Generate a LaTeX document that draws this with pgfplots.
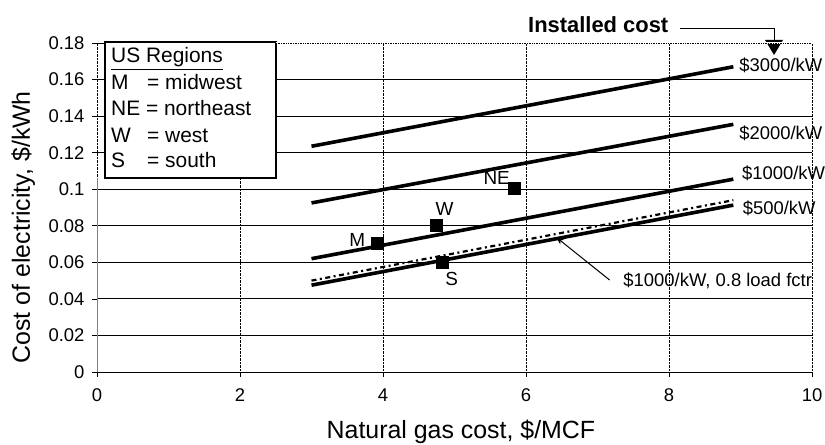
\documentclass[border=0pt]{standalone}
\usepackage{fontspec}
\setmainfont{Liberation Sans}
\usepackage{pgfplots}
\pgfplotsset{compat=1.18}
\usetikzlibrary{arrows.meta}

\begin{document}
\begin{tikzpicture}
\begin{axis}[
    at={(0bp,0bp)}, anchor=south west,
    scale only axis, width=715bp, height=329bp,
    xmin=0, xmax=10, ymin=0, ymax=0.18,
    xtick={0,2,4,6,8,10},
    ytick={0,0.02,0.04,0.06,0.08,0.1,0.12,0.14,0.16,0.18},
    axis line style={draw=none},
    xmajorgrids, ymajorgrids,
    x grid style={black, densely dotted, line width=0.7bp},
    y grid style={black, line width=0.8bp},
    xtick pos=bottom, ytick pos=left,
    tick align=outside, major tick length=5bp,
    tick style={black, line width=0.7bp},
    /pgf/number format/assume math mode=true,
    yticklabel style={/pgf/number format/fixed, /pgf/number format/precision=2,
        font=\fontsize{18.5}{20}\selectfont, xshift=-4bp},
    xticklabel style={font=\fontsize{18.5}{20}\selectfont, yshift=-8bp},
    xlabel={Natural gas cost, \$/MCF},
    ylabel={Cost of electricity, \$/kWh},
    xlabel style={font=\fontsize{25}{27}\selectfont, at={(axis description cs:0.509,-0.182)}, anchor=center},
    ylabel style={font=\fontsize{25}{27}\selectfont, at={(axis description cs:-0.103,0.44)}, anchor=center, rotate=0},
    clip=false,
]

% installed-cost lines
\addplot[black, line width=3.6bp] coordinates {(3,0.1235) (8.9,0.1670)};
\addplot[black, line width=3.6bp] coordinates {(3,0.0925) (8.9,0.1355)};
\addplot[black, line width=3.6bp] coordinates {(3,0.0620) (8.9,0.1055)};
\addplot[black, line width=3.6bp] coordinates {(3,0.0475) (8.9,0.0913)};
% $1000/kW at 0.8 load factor
\addplot[black, line width=2.2bp, dash pattern=on 5bp off 3.5bp on 2bp off 3.5bp] coordinates {(3,0.0500) (8.9,0.0940)};

% US regions
\addplot[only marks, mark=square*, mark size=6bp, black] coordinates {
    (3.92,0.0704) (4.75,0.0805) (4.83,0.0603) (5.83,0.1004)};

\node[font=\fontsize{19}{20}\selectfont] at (axis cs:3.64,0.0722) {M};
\node[font=\fontsize{19}{20}\selectfont] at (axis cs:4.86,0.0894) {W};
\node[font=\fontsize{19}{20}\selectfont] at (axis cs:4.96,0.0507) {S};
\node[font=\fontsize{19}{20}\selectfont] at (axis cs:5.59,0.1060) {NE};

\node[anchor=west, font=\fontsize{18.5}{20}\selectfont, inner sep=0pt] at (axis cs:8.98,0.1676) {\$3000/kW};
\node[anchor=west, font=\fontsize{18.5}{20}\selectfont, inner sep=0pt] at (axis cs:8.98,0.1308) {\$2000/kW};
\node[anchor=west, font=\fontsize{18.5}{20}\selectfont, inner sep=0pt] at (axis cs:9.02,0.1088) {\$1000/kW};
\node[anchor=west, font=\fontsize{18.5}{20}\selectfont, inner sep=0pt] at (axis cs:9.03,0.0894) {\$500/kW};
\node[anchor=west, font=\fontsize{18.5}{20}\selectfont, inner sep=0pt] at (axis cs:7.36,0.0497) {\$1000/kW, 0.8 load fctr};
\draw[black, line width=1bp, -{Stealth[length=8bp, width=6bp]}] (axis cs:7.17,0.0503) -- (axis cs:6.42,0.0738);

\node[font=\bfseries\fontsize{22}{24}\selectfont] at (axis cs:7.01,0.1898) {Installed cost};
\draw[black, line width=1.1bp]
    (axis cs:8.15,0.1877) -- (axis cs:9.47,0.1877) -- (axis cs:9.47,0.181);
\end{axis}

% arrowhead of the installed-cost pointer
\fill[black] (668bp,332bp) -- (686bp,332bp) -- (677bp,317bp) -- cycle;

% legend box
\draw[black, line width=1.4bp, fill=white] (8bp,194bp) rectangle (179bp,330bp);
\begin{scope}[every node/.style={anchor=base west, inner sep=0pt, font=\fontsize{21}{23}\selectfont}]
\node at (14bp,309bp) {\underline{US Regions}};
\node at (14bp,282bp) {M};   \node at (50bp,282bp) {= midwest};
\node at (14bp,256bp) {NE = northeast};
\node at (14bp,229bp) {W};   \node at (50bp,229bp) {= west};
\node at (14bp,204bp) {S};   \node at (50bp,204bp) {= south};
\end{scope}

% top frame dotted, left frame solid grey
\draw[white, line width=1.4bp] (179bp,329bp) -- (715bp,329bp);
\draw[black, densely dotted, line width=0.7bp] (179bp,329bp) -- (715bp,329bp);
\draw[gray, line width=0.7bp] (0bp,0bp) -- (0bp,194bp);

\pgfresetboundingbox
\path[use as bounding box] (-97bp,-73bp) rectangle (728bp,372bp);
\end{tikzpicture}
\end{document}
